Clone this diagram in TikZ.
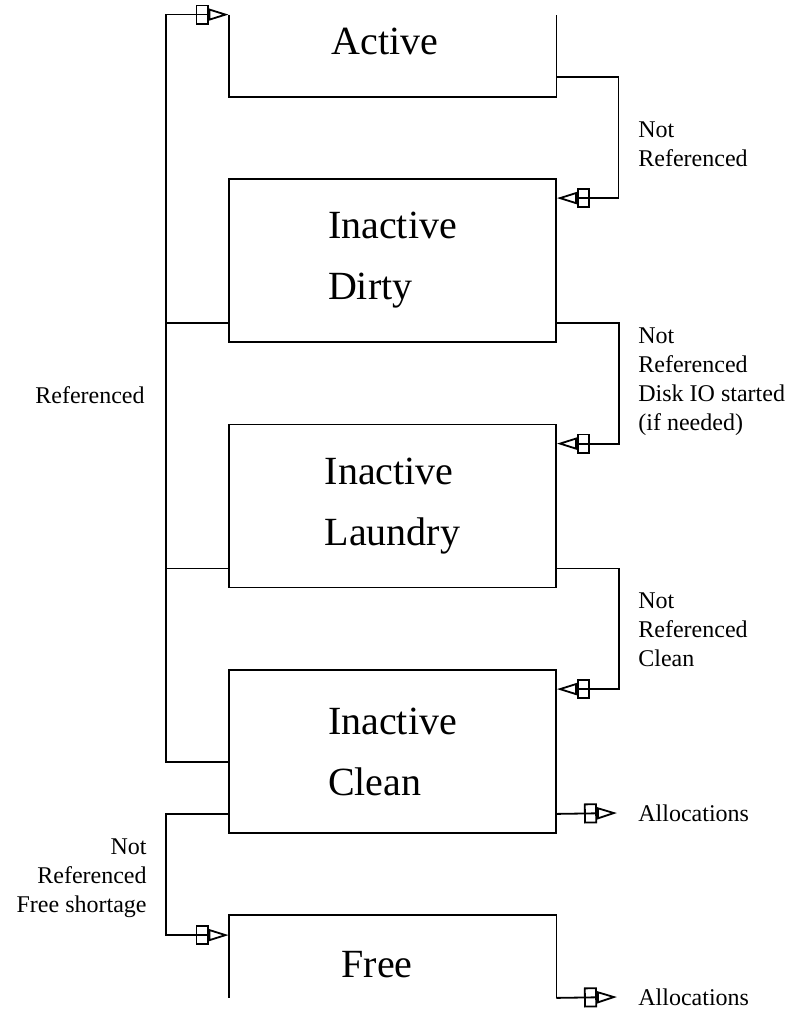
\documentclass[tikz,border=0pt]{standalone}
\usepackage{fontspec}
\setmainfont{Liberation Serif}
\usepackage{tikz}
\usetikzlibrary{arrows.meta}

\begin{document}
\begin{tikzpicture}[x=0.5pt, y=-0.5pt,
        state/.style={draw, line width=0.9pt, minimum width=163.5pt, minimum height=81.5pt,
            inner sep=0pt, align=left, font=\fontsize{20}{30.5}\selectfont},
        openstate/.style={minimum width=163.5pt, minimum height=41pt, inner sep=0pt},
        bigtext/.style={font=\fontsize{20}{24}\selectfont, inner sep=0pt},
        wire/.style={line width=0.9pt},
        flow/.style={line width=0.9pt,
            -{Rectangle[open, length=6.5pt, width=10pt] Triangle[open, length=10pt, width=6pt]}},
        note/.style={font=\fontsize{12}{14.5}\selectfont, inner sep=0pt}]
        \useasboundingbox (0,0) rectangle (790,1011);

        % Active (open at the top)
        \node[openstate] (active) at (392.5,56) {};
        \draw[wire] (active.north west) -- (active.south west) -- (active.south east) -- (active.north east);
        \node[bigtext, anchor=base] (activetxt) at (385,55) {Active};

        % Inactive states
        \node[state] (dirty) at (392.5,260.5) {Inactive\\Dirty};
        \node[state] (laundry) at (392.5,506) {Inactive\\Laundry};
        \node[state] (clean) at (392.5,751.5) {Inactive\\Clean};

        % Free (open at the bottom)
        \node[openstate] (free) at (392.5,956.5) {};
        \draw[wire] (free.south west) -- (free.north west) -- (free.north east) -- (free.south east);
        \node[bigtext, anchor=base] (freetxt) at (377,977) {Free};

        % Not referenced: down the right side
        \draw[flow] ([yshift=10pt]active.south east) -- ++(62,0) |- ([yshift=-10pt]dirty.north east);
        \draw[flow] ([yshift=10pt]dirty.south east) -- ++(62,0) |- ([yshift=-10pt]laundry.north east);
        \draw[flow] ([yshift=10pt]laundry.south east) -- ++(62,0) |- ([yshift=-10pt]clean.north east);

        % Referenced: back up to Active
        \draw[flow] ([yshift=-5.25pt]clean.west) -- ++(-62,0) |- (active.north west);
        \draw[wire] ([yshift=10pt]dirty.south west) -- ++(-62,0);
        \draw[wire] ([yshift=10pt]laundry.south west) -- ++(-62,0);

        % Free shortage
        \draw[flow] ([yshift=10pt]clean.south west) -- ++(-62,0) |- ([yshift=-10pt]free.north west);

        % Allocations
        \node[note, anchor=west, inner xsep=10.5pt] (alloc1) at (617,813) {Allocations};
        \draw[flow] ([yshift=10pt]clean.south east) -- (alloc1.west);
        \node[note, anchor=west, inner xsep=10.5pt] (alloc2) at (617,997) {Allocations};
        \draw[flow] (free.south east) -- (alloc2.west);

        % Labels
        \node[note, anchor=north west, align=left] (nr1) at (638,121) {Not\\Referenced};
        \node[note, anchor=north west, align=left] (nr2) at (638,327) {Not\\Referenced\\Disk IO started\\(if needed)};
        \node[note, anchor=north west, align=left] (nr3) at (638,592) {Not\\Referenced\\Clean};
        \node[note, anchor=base east] (refd) at (145,403) {Referenced};
        \node[note, anchor=north east, align=right] (nr4) at (147,838) {Not\\Referenced\\Free shortage};
\end{tikzpicture}
\end{document}
